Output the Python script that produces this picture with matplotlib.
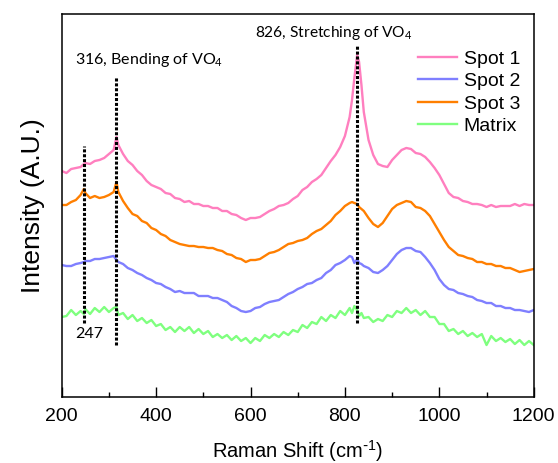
import matplotlib
matplotlib.use("Agg")
import matplotlib.pyplot as plt
from matplotlib.ticker import MultipleLocator

# Raman shift grid (cm^-1)
shift = [200, 210, 220, 230, 240, 247, 250, 260, 270, 280, 290, 300, 310, 316, 320,
         330, 340, 350, 360, 370, 380, 390, 400, 410, 420, 430, 440, 450, 460, 470,
         480, 490, 500, 510, 520, 530, 540, 550, 560, 570, 580, 590, 600, 610, 620,
         630, 640, 650, 660, 670, 680, 690, 700, 710, 720, 730, 740, 750, 760, 770,
         780, 790, 800, 810, 815, 820, 826, 830, 835, 840, 850, 860, 870, 880, 890,
         900, 910, 920, 930, 940, 950, 960, 970, 980, 990, 1000, 1010, 1020, 1030,
         1040, 1050, 1060, 1070, 1080, 1090, 1100, 1110, 1120, 1130, 1140, 1150,
         1160, 1170, 1180, 1190, 1200]

# Offset spectra (arbitrary units)
spot1 = [229, 227, 231, 232, 233, 236, 237, 236, 239, 240, 242, 246, 250, 263, 255,
         246, 239, 235, 229, 225, 219, 215, 213, 211, 207, 206, 202, 201, 198, 199,
         196, 196, 194, 194, 192, 192, 189, 189, 186, 185, 182, 180, 182, 182, 183,
         186, 189, 191, 194, 195, 197, 201, 204, 210, 213, 218, 221, 225, 232, 239,
         245, 253, 264, 283, 300, 322, 345, 338, 315, 288, 260, 245, 236, 234, 233,
         240, 245, 250, 252, 251, 247, 246, 243, 238, 232, 225, 216, 207, 203, 202,
         199, 198, 196, 196, 195, 193, 195, 193, 194, 194, 194, 196, 194, 196, 195,
         195]

spot2 = [135, 134, 134, 136, 137, 138, 139, 139, 141, 141, 142, 143, 144, 140, 138,
         136, 132, 130, 127, 125, 122, 120, 117, 116, 113, 111, 108, 109, 107, 107,
         107, 104, 104, 104, 102, 102, 100, 98, 94, 92, 89, 88, 89, 92, 93,
         96, 98, 99, 100, 103, 106, 108, 111, 113, 116, 117, 120, 122, 127, 130,
         135, 137, 140, 144, 143, 137, 141, 137, 136, 134, 132, 128, 127, 130, 134,
         140, 146, 150, 152, 152, 149, 148, 143, 137, 130, 121, 115, 111, 110, 107,
         106, 104, 103, 100, 99, 97, 97, 94, 94, 92, 92, 90, 90, 89, 88,
         90]

spot3 = [195, 195, 198, 200, 205, 211, 207, 202, 204, 202, 203, 205, 208, 218, 208,
         199, 192, 186, 184, 179, 177, 172, 170, 166, 164, 160, 158, 156, 155, 154,
         154, 153, 153, 152, 152, 150, 149, 146, 145, 142, 141, 138, 140, 140, 141,
         144, 147, 148, 150, 153, 156, 157, 159, 160, 162, 166, 169, 171, 175, 179,
         185, 189, 194, 197, 198, 197, 196, 193, 191, 189, 182, 176, 173, 177, 184,
         191, 195, 197, 199, 198, 193, 192, 189, 184, 176, 168, 160, 153, 149, 145,
         144, 142, 141, 138, 138, 136, 136, 134, 134, 132, 132, 130, 128, 129, 130,
         131]

matrix = [83, 84, 90, 85, 89, 86, 91, 86, 92, 88, 93, 88, 92, 93, 85,
          87, 81, 85, 79, 82, 77, 80, 74, 76, 70, 73, 68, 73, 69, 73,
          67, 71, 66, 69, 63, 66, 62, 65, 60, 64, 59, 62, 57, 62, 59,
          65, 62, 66, 63, 68, 65, 70, 68, 75, 72, 78, 76, 83, 79, 85,
          82, 89, 85, 92, 87, 94, 90, 84, 87, 82, 83, 78, 81, 79, 85,
          83, 89, 87, 92, 87, 90, 85, 89, 83, 83, 76, 76, 69, 71, 66,
          69, 64, 67, 63, 66, 55, 64, 59, 62, 58, 61, 56, 60, 55, 59,
          55]

series = [("Spot 1", spot1, "#ff7fbf"),
          ("Spot 2", spot2, "#7f7fff"),
          ("Spot 3", spot3, "#ff7f00"),
          ("Matrix", matrix, "#7fff7f")]

# Marked band positions and the vertical extent of their guide lines
band_pos = [247, 316, 826]
band_low = [77, 55, 77]
band_high = [254, 323, 355]

plt.rcParams["font.family"] = ["Liberation Sans", "DejaVu Sans"]

fig = plt.figure(figsize=(5.58, 4.63), dpi=100)
ax = fig.add_axes([0.1106, 0.1425, 0.8459, 0.8273])

for name, vals, col in series:
    ax.plot(shift, vals, color=col, lw=1.7, label=name)

for pos, lo, hi in zip(band_pos, band_low, band_high):
    ax.plot([pos, pos], [lo, hi], color="black", lw=2.2, linestyle=(0, (1, 0.6)),
            zorder=5)

note_font = ["Lato", "DejaVu Sans"]
ax.text(228, 340, "316, Bending of VO$\\mathregular{_4}$", family=note_font,
        fontsize=11.5, va="center", ha="left")
ax.text(609, 367, "826, Stretching of VO$\\mathregular{_4}$", family=note_font,
        fontsize=11.2, va="center", ha="left")
ax.text(228, 66, "247", family=note_font, fontsize=11.5, va="center", ha="left")

ax.set_xlim(200, 1200)
ax.set_ylim(3, 386)
ax.xaxis.set_major_locator(MultipleLocator(200))
ax.xaxis.set_minor_locator(MultipleLocator(100))
ax.tick_params(axis="x", which="major", direction="in", length=7, width=1,
               labelsize=14, pad=8)
ax.tick_params(axis="x", which="minor", direction="in", length=3.5, width=1)
ax.set_yticks([])
for sp in ax.spines.values():
    sp.set_linewidth(1.1)

ax.set_xlabel("Raman Shift (cm$^{\\mathregular{\\text{-}1}}$)", fontsize=14.5,
              labelpad=9)
ax.set_ylabel("Intensity (A.U.)", fontsize=19, labelpad=12)

ax.legend(loc="upper left", bbox_to_anchor=(0.755, 0.906), frameon=False,
          fontsize=14, handlelength=2.0, handletextpad=0.35, labelspacing=0.25,
          borderpad=0, borderaxespad=0)

fig.savefig("out.png", dpi=100)
